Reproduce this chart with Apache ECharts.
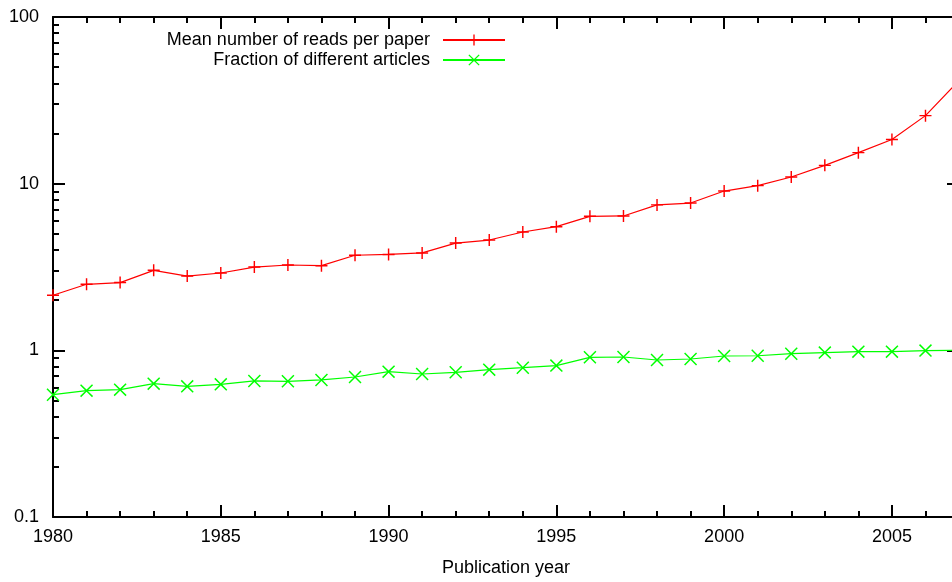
<!DOCTYPE html>
<html>
<head>
<meta charset="utf-8">
<style>
html,body{margin:0;padding:0;background:#fff;}
#chart{width:952px;height:582px;}
</style>
<script src="https://cdn.jsdelivr.net/npm/echarts@6/dist/echarts.min.js"></script>
</head>
<body>
<div id="chart"></div>
<script>
// ---- data ----
var years = [1980,1981,1982,1983,1984,1985,1986,1987,1988,1989,1990,1991,1992,1993,1994,1995,1996,1997,1998,1999,2000,2001,2002,2003,2004,2005,2006,2007];
var meanReads = [2.14,2.49,2.55,3.02,2.79,2.91,3.16,3.25,3.22,3.72,3.76,3.84,4.40,4.59,5.13,5.52,6.37,6.40,7.46,7.65,9.03,9.73,10.96,12.88,15.35,18.4,25.6,41.6];
var fraction = [0.542,0.573,0.581,0.631,0.608,0.625,0.655,0.652,0.664,0.692,0.745,0.721,0.738,0.766,0.787,0.81,0.908,0.912,0.875,0.887,0.925,0.928,0.955,0.969,0.982,0.982,0.996,1.0];
var seriesNames = ['Mean number of reads per paper','Fraction of different articles'];
var xMajorTicks = [1980,1985,1990,1995,2000,2005];
var xMinorTicks = [1981,1982,1983,1984,1986,1987,1988,1989,1991,1992,1993,1994,1996,1997,1998,1999,2001,2002,2003,2004,2006];
var yMajorTicks = [0.1,1,10,100];
var yMinorTicks = [0.2,0.3,0.4,0.5,0.6,0.7,0.8,0.9,2,3,4,5,6,7,8,9,20,30,40,50,60,70,80,90];
var xTitle = 'Publication year';
// visible part of the 1980-2007 axis (picture is cropped on the right)
var xMin = 1980, xMaxVisible = 2006.79;

// ---- chart ----
var FONT = 'Liberation Sans, Arial, Helvetica, sans-serif';
var plusPath = 'path://M4.4,0H5.6V4.4H10V5.6H5.6V10H4.4V5.6H0V4.4H4.4Z';
var crossPath = 'path://M0,0.8L0.8,0L5,4.2L9.2,0L10,0.8L5.8,5L10,9.2L9.2,10L5,5.8L0.8,10L0,9.2L4.2,5Z';

function pairs(ys){ return years.map(function(y,i){ return [y, ys[i]]; }); }

function xAx(pos, major, showLine){
  return {
    type:'value', min:xMin, max:xMaxVisible, position:pos, gridIndex:0,
    axisLine:{show:showLine, lineStyle:{color:'#000', width:2}},
    axisTick:{show:true, inside:true, length: major?12:6, customValues: major?xMajorTicks:xMinorTicks, lineStyle:{color:'#000', width:2}},
    axisLabel:{show: major && pos==='bottom', customValues:xMajorTicks, color:'#000', fontSize:18, fontFamily:FONT, margin:11,
      formatter:function(v){ return String(v); }},
    splitLine:{show:false}
  };
}
function yAx(pos, major, showLine){
  return {
    type:'log', logBase:10, min:0.1, max:100, position:pos, gridIndex:0,
    offset: pos==='right' ? 7 : 0,
    axisLine:{show:showLine, lineStyle:{color:'#000', width:2}},
    axisTick:{show:true, inside:true, length: major?12:6, customValues: major?yMajorTicks:yMinorTicks, lineStyle:{color:'#000', width:2}},
    axisLabel:{show: major && pos==='left', customValues:yMajorTicks, color:'#000', fontSize:18, fontFamily:FONT, margin:14,
      formatter:function(v){ return String(v); }},
    splitLine:{show:false}
  };
}

var xAxes = [xAx('bottom',true,true), xAx('bottom',false,false), xAx('top',true,true), xAx('top',false,false)];
xAxes[0].name = xTitle;
xAxes[0].nameLocation = 'middle';
xAxes[0].nameGap = 42;
xAxes[0].nameTextStyle = {color:'#000', fontSize:18, fontFamily:FONT, padding:[0,0,0,7]};
var yAxes = [yAx('left',true,true), yAx('left',false,false), yAx('right',true,true), yAx('right',false,false)];

var chart = echarts.init(document.getElementById('chart'), null, {renderer:'canvas'});
chart.setOption({
  animation:false,
  backgroundColor:'#fff',
  grid:{left:53, top:17, right:0, bottom:65, containLabel:false},
  legend:{
    orient:'vertical', align:'right', right:441, top:26,
    itemWidth:62, itemHeight:14, itemGap:2,
    textStyle:{color:'#000', fontSize:18, fontFamily:FONT, padding:[0,8,0,0]},
    data:seriesNames
  },
  xAxis:xAxes,
  yAxis:yAxes,
  series:[
    {name:seriesNames[0], type:'line', xAxisIndex:0, yAxisIndex:0, data:pairs(meanReads),
     symbol:plusPath, symbolSize:12, lineStyle:{color:'#ff0000', width:1.2},
     itemStyle:{color:'#ff0000'}},
    {name:seriesNames[1], type:'line', xAxisIndex:0, yAxisIndex:0, data:pairs(fraction),
     symbol:crossPath, symbolSize:13, lineStyle:{color:'#00ff00', width:1.2},
     itemStyle:{color:'#00ff00'}}
  ]
});
</script>
</body>
</html>
